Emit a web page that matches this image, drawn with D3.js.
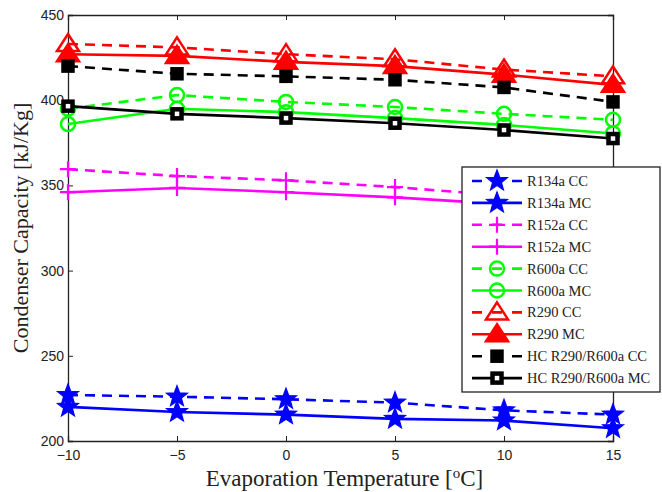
<!DOCTYPE html>
<meta charset="utf-8" />
<script src="https://d3js.org/d3.v7.min.js"></script>
<style>
  body { margin: 0; background: #fff; }
  .tick text { font-family: "Liberation Sans", Arial, sans-serif; font-size: 14px; fill: #222; }
</style>
<body>
<div id="chart"></div>
<script>
// evaporation temperatures (x) and condenser capacity values (kJ/kg)
var temps = [-10, -5, 0, 5, 10, 15];
var xTicks = [-10, -5, 0, 5, 10, 15];
var yTicks = [200, 250, 300, 350, 400, 450];

var r134aCC = [227, 226, 224.5, 222.5, 218, 215.5];
var r134aMC = [220, 217, 215.5, 213, 212, 207.5];
var r152aCC = [359.5, 355.5, 353, 349, 344, 340];
var r152aMC = [346, 348.5, 346, 343, 339, 335];
var r600aCC = [395, 403, 399, 396, 392, 388.5];
var r600aMC = [386, 395, 393, 389.5, 385.5, 380.5];
var r290CC = [433, 431, 427, 424, 418, 414];
var r290MC = [427, 426, 422.5, 420, 415, 409];
var hcCC = [420, 415.5, 414, 412, 407.5, 399];
var hcMC = [396.5, 392, 389.5, 386.5, 382.5, 377.5];

var names = ["R134a CC", "R134a MC", "R152a CC", "R152a MC", "R600a CC",
  "R600a MC", "R290 CC", "R290 MC", "HC R290/R600a CC", "HC R290/R600a MC"];

var series = [
  { name: names[0], values: r134aCC, color: "#0000ff", dash: true, marker: "star", fill: true },
  { name: names[1], values: r134aMC, color: "#0000ff", dash: false, marker: "star", fill: true },
  { name: names[2], values: r152aCC, color: "#ff00ff", dash: true, marker: "plus" },
  { name: names[3], values: r152aMC, color: "#ff00ff", dash: false, marker: "plus" },
  { name: names[4], values: r600aCC, color: "#00ff00", dash: true, marker: "circle", fill: false },
  { name: names[5], values: r600aMC, color: "#00ff00", dash: false, marker: "circle", fill: false },
  { name: names[6], values: r290CC, color: "#ff0000", dash: true, marker: "triangle", fill: false },
  { name: names[7], values: r290MC, color: "#ff0000", dash: false, marker: "triangle", fill: true },
  { name: names[8], values: hcCC, color: "#000000", dash: true, marker: "square", fill: true },
  { name: names[9], values: hcMC, color: "#000000", dash: false, marker: "square", fill: false }
];

var margin = { top: 15, right: 49, bottom: 51, left: 68 },
  W = 662, H = 492,
  width = W - margin.left - margin.right,
  height = H - margin.top - margin.bottom;

var svg = d3.select("#chart").append("svg")
  .attr("width", W).attr("height", H);
svg.append("rect").attr("width", W).attr("height", H).attr("fill", "#fff");

var g = svg.append("g")
  .attr("transform", "translate(" + margin.left + "," + margin.top + ")");

var x = d3.scaleLinear().domain([-10, 15]).range([0, width]);
var y = d3.scaleLinear().domain([200, 450]).range([height, 0]);

function fmt(d) { return d < 0 ? "\u2212" + Math.abs(d) : String(d); }

// axes, matlab style inner ticks on all sides
g.append("g").attr("transform", "translate(0," + height + ")")
  .call(d3.axisBottom(x).tickValues(xTicks).tickSize(-5).tickPadding(9).tickFormat(fmt));
g.append("g")
  .call(d3.axisLeft(y).tickValues(yTicks).tickSize(-5).tickPadding(4).tickFormat(fmt));
g.append("g")
  .call(d3.axisTop(x).tickValues(xTicks).tickSize(-5).tickFormat(""));
g.append("g").attr("transform", "translate(" + width + ",0)")
  .call(d3.axisRight(y).tickValues(yTicks).tickSize(-5).tickFormat(""));
g.selectAll(".domain").attr("stroke", "#222").attr("stroke-width", 1.3);
g.selectAll(".tick line").attr("stroke", "#222");

function starPath(r) {
  var p = [];
  for (var i = 0; i < 10; i++) {
    var a = -Math.PI / 2 + i * Math.PI / 5;
    var rr = i % 2 ? r * 0.42 : r;
    p.push([rr * Math.cos(a), rr * Math.sin(a)]);
  }
  return "M" + p.map(function (q) { return q[0].toFixed(2) + "," + q[1].toFixed(2); }).join("L") + "Z";
}

function drawMarker(sel, s) {
  if (s.marker === "star") {
    sel.append("path").attr("d", starPath(11))
      .attr("fill", s.color).attr("stroke", s.color).attr("stroke-width", 1.2);
  } else if (s.marker === "plus") {
    sel.append("path").attr("d", "M-8,0H8M0,-8V8")
      .attr("fill", "none").attr("stroke", s.color).attr("stroke-width", 2.2);
  } else if (s.marker === "circle") {
    sel.append("circle").attr("r", 7)
      .attr("fill", "none").attr("stroke", s.color).attr("stroke-width", 2.5);
  } else if (s.marker === "triangle") {
    sel.append("path").attr("d", "M0,-10L11,7L-11,7Z")
      .attr("fill", s.fill ? s.color : "none").attr("stroke", s.color).attr("stroke-width", 2.5);
  } else if (s.marker === "square") {
    sel.append("rect").attr("x", -4.5).attr("y", -4.5).attr("width", 9).attr("height", 9)
      .attr("fill", s.fill ? s.color : "#fff").attr("stroke", s.color).attr("stroke-width", 4.5);
  }
}

var line = d3.line()
  .x(function (d, i) { return x(temps[i]); })
  .y(function (d) { return y(d); });

series.forEach(function (s) {
  var sg = g.append("g");
  sg.append("path").datum(s.values)
    .attr("d", line)
    .attr("fill", "none")
    .attr("stroke", s.color)
    .attr("stroke-width", 2.6)
    .attr("stroke-dasharray", s.dash ? "10,7" : null);
  sg.selectAll("g.m").data(s.values).enter().append("g")
    .attr("transform", function (d, i) { return "translate(" + x(temps[i]) + "," + y(d) + ")"; })
    .each(function () { drawMarker(d3.select(this), s); });
});

// axis labels
svg.append("text")
  .attr("x", margin.left + width / 2 + 4).attr("y", 486)
  .attr("text-anchor", "middle")
  .style("font-family", "'Liberation Serif', 'Times New Roman', serif")
  .style("font-size", "23px").style("fill", "#222")
  .html("Evaporation Temperature [<tspan baseline-shift='super' font-size='15px'>o</tspan>C]");

svg.append("text")
  .attr("transform", "translate(28," + (margin.top + height / 2) + ") rotate(-90)")
  .attr("text-anchor", "middle")
  .style("font-family", "'Liberation Serif', 'Times New Roman', serif")
  .style("font-size", "22px").style("fill", "#222")
  .text("Condenser Capacity [kJ/Kg]");

// legend
var lg = svg.append("g").attr("transform", "translate(462,167)");
lg.append("rect").attr("width", 198).attr("height", 225)
  .attr("fill", "#fff").attr("stroke", "#222").attr("stroke-width", 1.3);
series.forEach(function (s, i) {
  var row = lg.append("g").attr("transform", "translate(0," + (14 + i * 21.9) + ")");
  row.append("line").attr("x1", 10).attr("x2", 60)
    .attr("stroke", s.color).attr("stroke-width", 2.6)
    .attr("stroke-dasharray", s.dash ? "10,10" : null);
  var mg = row.append("g").attr("transform", "translate(35,0)");
  drawMarker(mg, s);
  row.append("text").attr("x", 65).attr("y", 5)
    .style("font-family", "'Liberation Serif', 'Times New Roman', serif")
    .style("font-size", "14.5px").style("fill", "#222")
    .text(s.name);
});
</script>
</body>
